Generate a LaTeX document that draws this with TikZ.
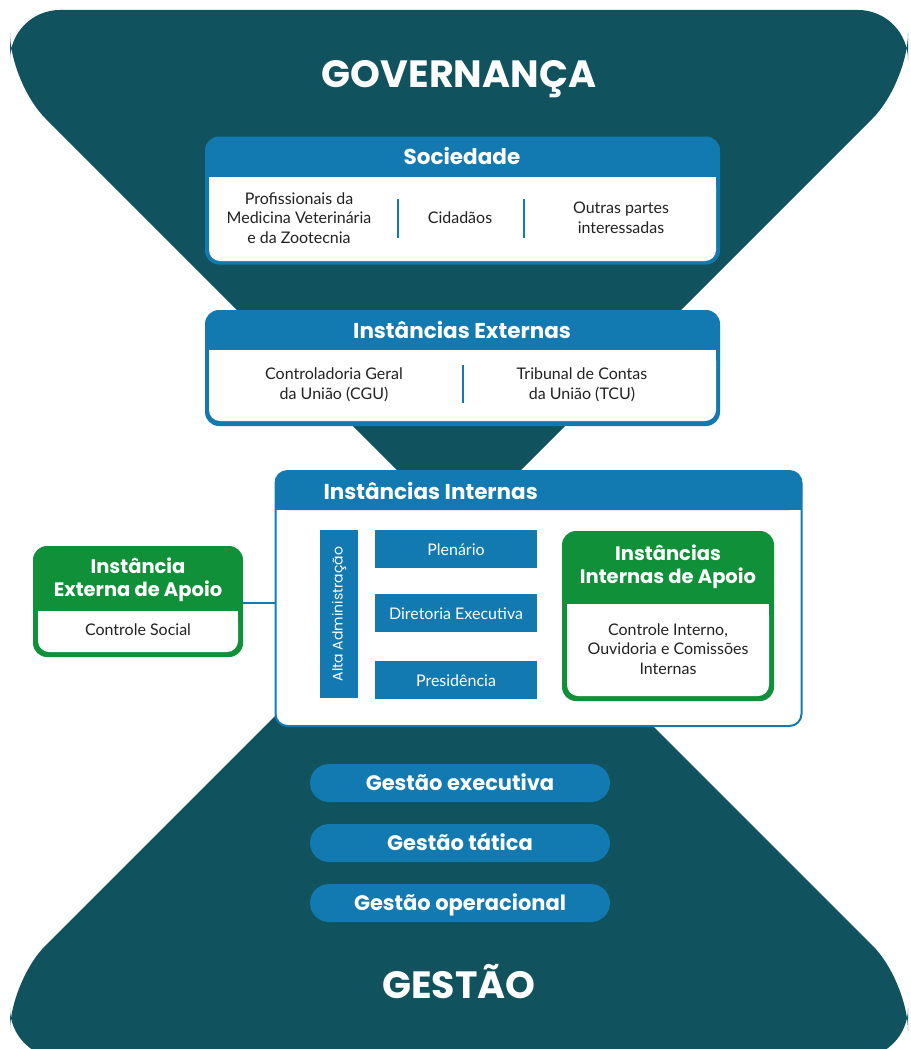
\documentclass[tikz,border=0pt]{standalone}
\usepackage{fontspec}
\setmainfont{Lato}
\newfontfamily\headfont{Poppins}
\usetikzlibrary{positioning}
\definecolor{govteal}{HTML}{10535E}
\definecolor{govblue}{HTML}{127AB0}
\definecolor{govgreen}{HTML}{11903A}
\definecolor{govtext}{HTML}{222222}

\begin{document}
\begin{tikzpicture}[x=1pt, y=-1pt,
	panel/.style={inner sep=0pt, rounded corners=14pt},
	head/.style={text=white, align=center, font=\headfont\bfseries\fontsize{21.5}{24}\selectfont},
	body/.style={text=govtext, align=center, font=\fontsize{16}{19.5}\selectfont},
	sep/.style={draw=govblue, line width=2.5pt},
	role/.style={fill=govblue, inner sep=0pt, minimum width=162pt, minimum height=38pt, text height=14pt, text depth=2pt, text=white, font=\fontsize{16}{18}\selectfont},
	level/.style={fill=govblue, inner sep=0pt, rounded corners=19pt, minimum width=300pt, minimum height=38pt, text height=17pt, text depth=3pt, text=white, font=\headfont\bfseries\fontsize{21}{24}\selectfont},
	title/.style={text=white, anchor=base, font=\headfont\bfseries\fontsize{38}{42}\selectfont}]
	\useasboundingbox (0,0) rectangle (910,1049);
	\clip (0,0) rectangle (910,1049);
	% hourglass
	\fill[govteal, rounded corners=50pt] (459,532) -- (10,83) -- (10,10) -- (908,10) -- (908,83) -- cycle;
	\fill[govteal, rounded corners=50pt] (459,532) -- (10,981) -- (10,1058) -- (908,1058) -- (908,981) -- cycle;
	\node[title] (gov) at (459,87) {GOVERNANÇA};
	\node[title] (gest) at (459,998) {GESTÃO};
	% Sociedade
	\node[panel, fill=govblue, minimum width=515pt, minimum height=128pt] (soc) at (462.5,200.5) {};
	\fill[white, rounded corners=11pt] (209,177) rectangle (716,261);
	\fill[white] (209,177) rectangle (716,195);
	\node[head] (soct) at (462,156) {Sociedade};
	\node[body] (prof) at (299,218) {Profissionais da\\Medicina Veterinária\\e da Zootecnia};
	\node[body] (cid) at (460,218) {Cidadãos};
	\node[body] (outr) at (621,218) {Outras partes\\interessadas};
	\draw[sep] (398,199) -- (398,238);
	\draw[sep] (524,199) -- (524,238);
	% Instancias Externas
	\node[panel, fill=govblue, minimum width=515pt, minimum height=116pt] (ext) at (462.5,368) {};
	\fill[white, rounded corners=11pt] (209,350) rectangle (716,421);
	\fill[white] (209,350) rectangle (716,368);
	\node[head] (extt) at (462,330) {Instâncias Externas};
	\node[body] (cgu) at (334,385) {Controladoria Geral\\da União (CGU)};
	\node[body] (tcu) at (582,385) {Tribunal de Contas\\da União (TCU)};
	\draw[sep] (463,365) -- (463,403);
	% Instancias Internas
	\node[panel, fill=white, draw=govblue, line width=2pt, rounded corners=12pt, minimum width=526pt, minimum height=255pt] (int) at (538.5,598.5) {};
	\fill[govblue, rounded corners=12pt] (275,471) rectangle (802,510);
	\fill[govblue] (275,495) rectangle (802,510);
	\node[head, anchor=west] (intt) at (320,491) {Instâncias Internas};
	\node[fill=govblue, inner sep=0pt, minimum width=38pt, minimum height=168pt] (alta) at (339,614) {};
	\node[rotate=90, text=white, font=\headfont\fontsize{14}{17}\selectfont] (altat) at (alta) {Alta Administração};
	\node[role] (plen) at (456,549) {Plenário};
	\node[role] (dir) at (456,613) {Diretoria Executiva};
	\node[role] (pres) at (456,680) {Presidência};
	% Instancias Internas de Apoio
	\node[panel, fill=govgreen, minimum width=212pt, minimum height=170pt] (intap) at (668,616) {};
	\fill[white, rounded corners=11pt] (567,604) rectangle (769,696);
	\fill[white] (567,604) rectangle (769,620);
	\node[head, font=\headfont\bfseries\fontsize{19.5}{23.5}\selectfont] (intapt) at (668,567) {Instâncias\\Internas de Apoio};
	\node[body] (ctrl) at (668,649) {Controle Interno,\\Ouvidoria e Comissões\\Internas};
	% Instancia Externa de Apoio
	\node[panel, fill=govgreen, minimum width=210pt, minimum height=111pt] (extap) at (138,601.5) {};
	\fill[white, rounded corners=11pt] (38,611) rectangle (238,652);
	\fill[white] (38,611) rectangle (238,625);
	\node[head, font=\headfont\bfseries\fontsize{19.5}{23.5}\selectfont] (extapt) at (138,580) {Instância\\Externa de Apoio};
	\node[body] (soci) at (138,630) {Controle Social};
	\draw[govblue, line width=2.5pt] (extap.east |- 0,603) -- (int.west |- 0,603);
	% Gestao
	\node[level] (gexe) at (460,783) {Gestão executiva};
	\node[level] (gtat) at (460,843) {Gestão tática};
	\node[level] (gope) at (460,903) {Gestão operacional};
\end{tikzpicture}
\end{document}
